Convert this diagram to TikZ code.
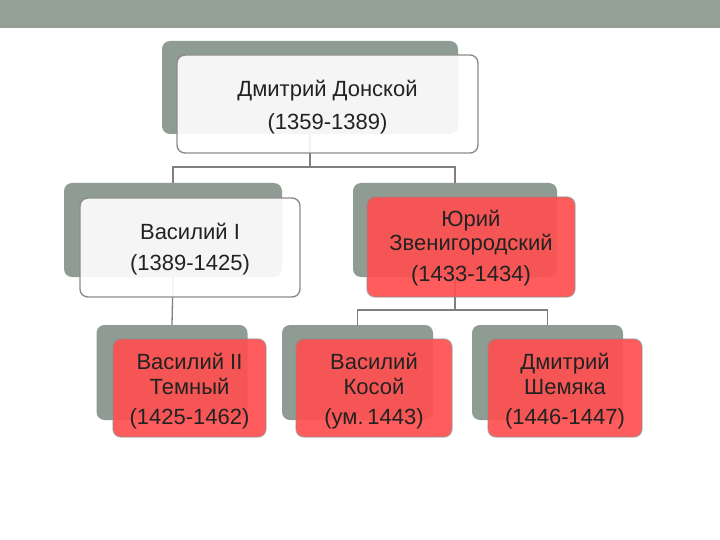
\documentclass[tikz,border=0pt]{standalone}
\usepackage{fontspec}
\setmainfont{Liberation Sans}
\definecolor{bar}{HTML}{94A096}
\definecolor{shade}{HTML}{8F9C94}
\definecolor{redbox}{HTML}{FF5050}
\definecolor{edge}{HTML}{8C8C8C}
\definecolor{conn}{HTML}{7F7F7F}
\definecolor{txt}{HTML}{222222}
\begin{document}
\begin{tikzpicture}[x=1pt,y=-1pt,
  shadowbox/.style={rectangle,rounded corners=8pt,fill=shade,draw=none,inner sep=0pt},
  whitebox/.style={rectangle,rounded corners=8pt,fill=white,fill opacity=0.9,draw=edge,line width=1.4pt,inner sep=0pt},
  redfront/.style={rectangle,rounded corners=8pt,fill=redbox,fill opacity=0.92,draw=edge,draw opacity=0.55,line width=1.4pt,inner sep=0pt},
  lbl/.style={anchor=base,inner sep=0pt,text=txt,font=\fontsize{22pt}{25pt}\selectfont},
  connector/.style={draw=conn,line width=1.3pt}]
\useasboundingbox (0,0) rectangle (720,540);
\fill[white] (0,0) rectangle (720,540);
\fill[bar] (0,0) rectangle (720,28);
% shadows
\node[shadowbox,minimum width=296pt,minimum height=93pt] (s0) at (310,87.5) {};
\node[shadowbox,minimum width=218pt,minimum height=94pt] (s1) at (173,230) {};
\node[shadowbox,minimum width=204pt,minimum height=94pt] (s2) at (455,230) {};
\node[shadowbox,minimum width=151pt,minimum height=95pt] (s3) at (172,372.5) {};
\node[shadowbox,minimum width=151pt,minimum height=95pt] (s4) at (357.5,372.5) {};
\node[shadowbox,minimum width=151pt,minimum height=95pt] (s5) at (547.5,372.5) {};
% junctions
\coordinate (j0) at (310,167);
\coordinate (j2) at (454,310);
% connectors
\draw[connector] (s0.south) -- (s0.south |- j0) -| (s1.north);
\draw[connector] (s0.south |- j0) -| (s2.north);
\draw[connector] (s1.south) -- (s3.north);
\draw[connector] (s2.south) -- (s2.south |- j2) -| (s4.north);
\draw[connector] (s2.south |- j2) -| (s5.north);
% front boxes
\node[whitebox,minimum width=301pt,minimum height=98pt] (f0) at (327.5,104) {};
\node[whitebox,minimum width=220pt,minimum height=99pt] (f1) at (190,247.5) {};
\node[redfront,minimum width=208pt,minimum height=100pt] (f2) at (471,247) {};
\node[redfront,minimum width=153pt,minimum height=98pt] (f3) at (189.5,388) {};
\node[redfront,minimum width=156pt,minimum height=98pt] (f4) at (374,388) {};
\node[redfront,minimum width=154pt,minimum height=98pt] (f5) at (565,388) {};
% texts
\node[lbl] (t0a) at (327.5,97) {Дмитрий Донской};
\node[lbl] (t0b) at (327.5,130) {(1359-1389)};
\node[lbl] (t1a) at (190,240) {Василий I};
\node[lbl] (t1b) at (190,270) {(1389-1425)};
\node[lbl] (t2a) at (471,226) {Юрий};
\node[lbl] (t2b) at (471,251) {Звенигородский};
\node[lbl] (t2c) at (471,281) {(1433-1434)};
\node[lbl] (t3a) at (189.5,369) {Василий II};
\node[lbl] (t3b) at (189.5,394) {Темный};
\node[lbl] (t3c) at (189.5,424) {(1425-1462)};
\node[lbl] (t4a) at (374,369) {Василий};
\node[lbl] (t4b) at (374,394) {Косой};
\node[lbl] (t4c) at (374,424) {(ум.\,1443)};
\node[lbl] (t5a) at (565,369) {Дмитрий};
\node[lbl] (t5b) at (565,394) {Шемяка};
\node[lbl] (t5c) at (565,424) {(1446-1447)};
\end{tikzpicture}
\end{document}
